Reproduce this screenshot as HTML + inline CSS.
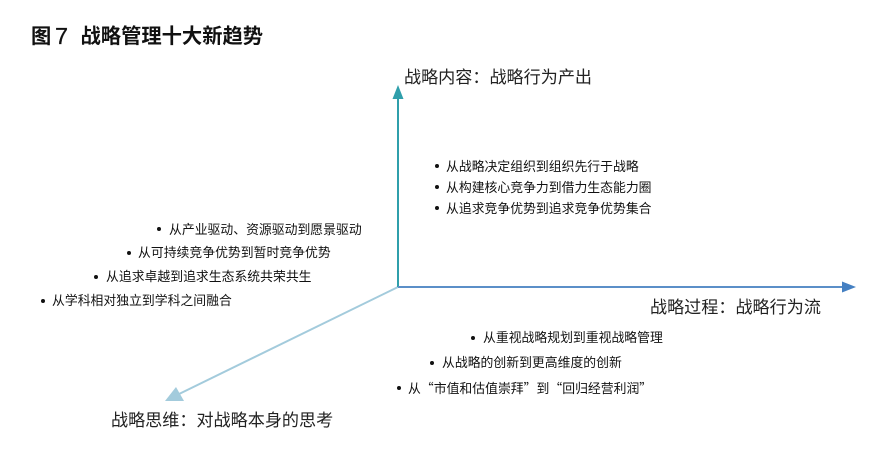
<!DOCTYPE html>
<html lang="zh">
<head>
<meta charset="utf-8">
<style>
html,body{margin:0;padding:0;background:#fff;}
#c{position:relative;width:888px;height:453px;overflow:hidden;background:#fff;font-family:"Liberation Sans","Noto Sans CJK SC",sans-serif;color:#1a1a1a;}
.t{position:absolute;white-space:nowrap;line-height:1;}
.b{font-size:12.85px;color:#111;}
.a{font-size:17.1px;color:#222;}
.d{position:absolute;width:4px;height:4px;border-radius:50%;background:#111;}
.q{font-family:"Noto Sans CJK SC",sans-serif;}
svg{position:absolute;left:0;top:0;}
</style>
</head>
<body>
<div id="c">
<svg width="888" height="453" viewBox="0 0 888 453">
<line x1="398" y1="287" x2="177" y2="395" stroke="#a3cbdc" stroke-width="2"/>
<polygon points="165,401 176,387 184,401" fill="#a3cbdc"/>
<line x1="398" y1="287" x2="398" y2="98" stroke="#2f9fab" stroke-width="2"/>
<polygon points="398,85 392.5,99 403.5,99" fill="#2f9fab"/>
<line x1="398" y1="287" x2="842" y2="287" stroke="#5b8fc8" stroke-width="2"/>
<polygon points="856,287 842,281.5 842,292.5" fill="#4580c2"/>
</svg>

<div class="t" style="left:31px;top:27px;font-size:20.3px;font-weight:bold;color:#111;">图</div>
<div class="t" style="left:55px;top:25px;font-size:23.5px;color:#111;-webkit-text-stroke:0.3px #111;">7</div>
<div class="t" style="left:80.5px;top:27px;font-size:20.3px;font-weight:bold;color:#111;">战略管理十大新趋势</div>

<div class="t a" style="left:404px;top:69px;">战略内容：战略行为产出</div>
<div class="t a" style="left:650px;top:299px;">战略过程：战略行为流</div>
<div class="t a" style="left:111px;top:412px;">战略思维：对战略本身的思考</div>

<div class="d" style="left:435px;top:164px;"></div>
<div class="t b" style="left:446px;top:161px;">从战略决定组织到组织先行于战略</div>
<div class="d" style="left:435px;top:185px;"></div>
<div class="t b" style="left:446px;top:182px;">从构建核心竞争力到借力生态能力圈</div>
<div class="d" style="left:435px;top:206px;"></div>
<div class="t b" style="left:446px;top:203px;">从追求竞争优势到追求竞争优势集合</div>

<div class="d" style="left:157px;top:227px;"></div>
<div class="t b" style="left:169px;top:224px;">从产业驱动、资源驱动到愿景驱动</div>
<div class="d" style="left:127px;top:251px;"></div>
<div class="t b" style="left:138px;top:247px;">从可持续竞争优势到暂时竞争优势</div>
<div class="d" style="left:94px;top:275px;"></div>
<div class="t b" style="left:106px;top:271px;">从追求卓越到追求生态系统共荣共生</div>
<div class="d" style="left:41px;top:299px;"></div>
<div class="t b" style="left:52px;top:295px;">从学科相对独立到学科之间融合</div>

<div class="d" style="left:471px;top:336px;"></div>
<div class="t b" style="left:483px;top:332px;">从重视战略规划到重视战略管理</div>
<div class="d" style="left:430px;top:361px;"></div>
<div class="t b" style="left:442px;top:357px;">从战略的创新到更高维度的创新</div>
<div class="d" style="left:397px;top:386px;"></div>
<div class="t b" style="left:408px;top:382px;">从<span class="q">“</span>市值和估值崇拜<span class="q">”</span>到<span class="q">“</span>回归经营利润<span class="q">”</span></div>
</div>
</body>
</html>
